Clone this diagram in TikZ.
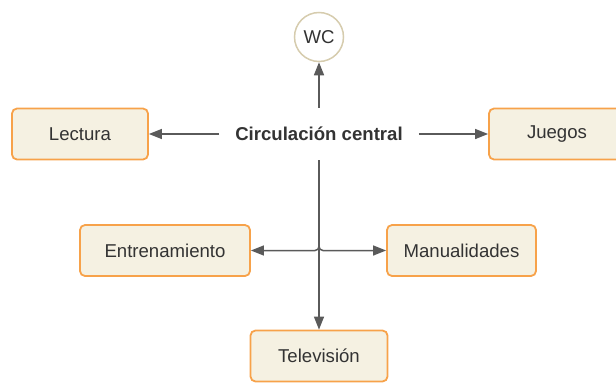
\documentclass[tikz,border=0pt]{standalone}
\usepackage{fontspec}
\setmainfont{Liberation Sans}
\usetikzlibrary{arrows.meta}

\definecolor{boxfill}{HTML}{F5F1E2}
\definecolor{boxline}{HTML}{F7A24A}
\definecolor{wcline}{HTML}{D6CCAE}
\definecolor{flecha}{HTML}{5A5A5A}
\definecolor{texto}{HTML}{333333}

\begin{document}
\begin{tikzpicture}[x=1pt,y=-1pt,
   font=\fontsize{18.6}{22}\selectfont, text=texto,
   zona/.style={draw=boxline, fill=boxfill, line width=1.8pt, rounded corners=5pt,
     minimum height=51pt, inner sep=0pt},
   flujo/.style={draw=flecha, line width=1.5pt, -{Triangle[length=13pt,width=10pt]}}]
   \useasboundingbox (0,0) rectangle (616,383);
   \path (319,134) node[font=\fontsize{18.6}{22}\selectfont\bfseries, minimum height=52pt,
     inner xsep=16pt, inner ysep=0pt] (C) {Circulación central};
   \path (319,37) node[draw=wcline, fill=white, circle, line width=1.5pt,
     minimum size=49pt, inner sep=0pt] (WC) {WC};
   \path (80,134) node[zona, minimum width=136pt] (L) {Lectura};
   \path (557,134) node[zona, minimum width=136pt] (J) {Juegos};
   \path (165,250.5) node[zona, minimum width=170pt] (E) {Entrenamiento};
   \path (461.5,250.5) node[zona, minimum width=149pt] (M) {Manualidades};
   \path (319,356) node[zona, minimum width=137pt] (T) {Televisión};
   % conexiones
   \draw[flujo] (C.north) -- (WC.south);
   \draw[flujo] (C.west) -- (L.east);
   \draw[flujo] (C.east) -- (J.west);
   \draw[flujo] (C.south) -- (T.north);
   \draw[flujo, rounded corners=4pt] (C.south) |- (E.east);
   \draw[flujo, rounded corners=4pt] (C.south) |- (M.west);
\end{tikzpicture}
\end{document}
